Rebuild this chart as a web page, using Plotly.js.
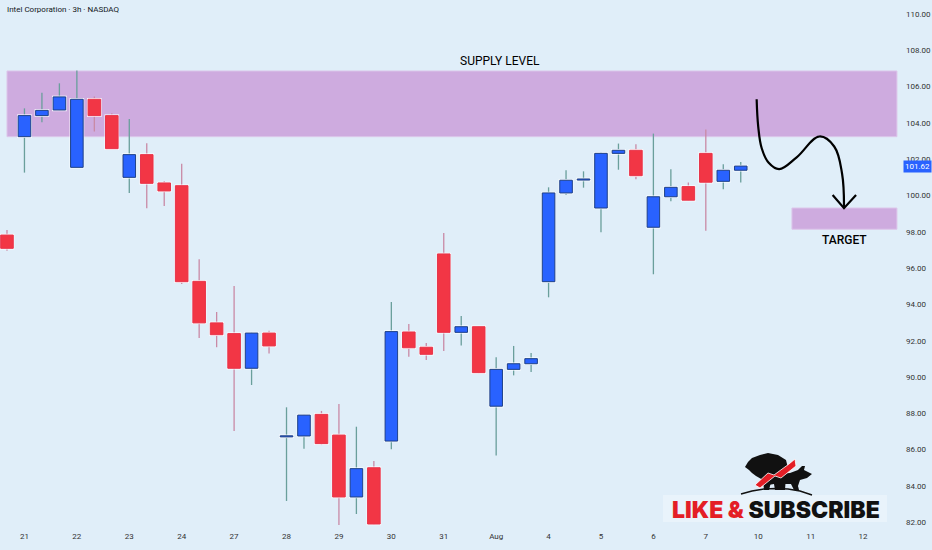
<!DOCTYPE html>
<html><head><meta charset="utf-8">
<script src="https://cdn.plot.ly/plotly-3.0.1.min.js"></script>
<style>html,body{margin:0;padding:0;background:#e0eef9;}#chart{width:932px;height:550px;}</style>
</head><body><div id="chart"></div><script>
// ---- data (3h candles, Intel Corporation, NASDAQ) ----
const dayLabels = ['21','22','23','24','27','28','29','30','31','Aug','4','5','6','7','10','11','12'];
const candlesPerDay = 3;
const openP  = [97.82,103.24,104.40,104.71,101.55,105.30,104.40,101.00,102.25,100.69,100.54,95.27,92.98,92.39,90.48,92.42,86.70,86.75,87.94,86.80,83.39,85.00,86.47,92.48,91.64,96.78,92.46,92.77,88.39,90.42,90.73,95.25,100.14,100.85,99.31,102.32,102.49,98.25,99.93,100.49,102.32,100.78,101.39];
const highP  = [98.10,104.80,105.66,106.18,106.88,105.45,104.53,104.21,102.88,100.80,101.75,96.48,93.58,95.01,92.48,92.55,88.33,87.94,88.13,88.51,87.26,85.37,94.13,92.92,91.87,97.93,93.36,92.81,91.09,91.71,91.32,100.45,101.39,101.33,102.40,102.86,102.82,103.41,101.44,100.71,103.64,101.72,101.85];
const lowP   = [96.96,101.26,104.03,104.66,101.55,103.52,102.58,100.14,99.29,99.42,95.12,92.15,91.64,87.02,89.56,91.29,83.17,86.05,86.25,81.85,82.45,81.85,86.02,91.12,90.94,91.43,91.73,90.20,85.67,90.09,90.28,94.39,100.03,100.43,97.97,101.42,100.89,95.66,99.68,99.70,98.06,100.34,100.71];
const closeP = [97.09,104.40,104.69,105.43,105.30,104.40,102.58,102.25,100.67,100.25,95.25,92.98,92.33,90.48,92.42,91.71,86.76,87.90,86.33,83.39,84.95,81.90,92.50,91.61,91.25,92.46,92.77,90.24,90.42,90.73,91.01,100.14,100.84,100.89,102.32,102.49,101.09,99.93,100.45,99.74,100.73,101.39,101.62];
const lastPrice = 101.62;
const supplyZone = [103.24, 106.86];
const targetZone = [98.14, 99.31];
// hand-drawn projection arrow (candle index, price)
const arrowX = [41.91, 42.0, 42.2, 42.6, 43.2, 44.2, 45.5, 46.35, 46.8, 46.91];
const arrowY = [105.30, 103.8, 102.6, 101.8, 101.45, 102.1, 103.25, 102.7, 101.2, 99.35];
const arrowHeadX = [46.26, 46.91, 47.6];
const arrowHeadY = [100.03, 99.30, 100.03];

// ---- build traces ----
const idx = openP.map((_, i) => i - 1);
const up = idx.map((_, i) => closeP[i] >= openP[i]);
function pick(arr, cond) { return arr.filter((_, i) => up[i] === cond); }
function wickTrace(cond, color) {
  return {type:'bar', x: pick(idx, cond), base: pick(lowP, cond),
    y: pick(highP.map((h,i)=>h-lowP[i]), cond), width: 0.075,
    marker:{color:color, line:{width:0}}, hoverinfo:'skip', showlegend:false};
}
function haloTrace() {
  return {type:'bar', x: idx, base: idx.map((_,i)=>Math.min(openP[i],closeP[i])-0.07),
    y: idx.map((_,i)=>Math.max(Math.abs(closeP[i]-openP[i]),0.06)+0.14), width:0.84,
    marker:{color:'rgba(255,255,255,0.85)', line:{width:0}}, hoverinfo:'skip', showlegend:false};
}
function bodyTrace(cond, fill, border) {
  return {type:'bar', x: pick(idx, cond),
    base: pick(idx.map((_,i)=>Math.min(openP[i],closeP[i])), cond),
    y: pick(idx.map((_,i)=>Math.max(Math.abs(closeP[i]-openP[i]),0.06)), cond),
    width: 0.72, marker:{color:fill, line:{color:border, width:1}}, hoverinfo:'skip', showlegend:false};
}
const traces = [
  wickTrace(true, '#6a9f9c'),
  wickTrace(false, '#c98aa6'),
  haloTrace(),
  bodyTrace(true, '#2962ff', '#1c3f86'),
  bodyTrace(false, '#f23645', '#e8334a'),
  {type:'scatter', mode:'lines', x: arrowX, y: arrowY, line:{color:'#000', width:2.2, shape:'spline', smoothing:1.1}, hoverinfo:'skip', showlegend:false},
  {type:'scatter', mode:'lines', x: arrowHeadX, y: arrowHeadY, line:{color:'#000', width:2.2}, hoverinfo:'skip', showlegend:false}
];

// ---- logo helper (pixel -> paper) ----
const PW = 902, PH = 530;
function pth(points, close) {
  let s = points.map((p, i) => (i ? 'L' : 'M') + (p[0]/PW).toFixed(5) + ',' + (1 - p[1]/PH).toFixed(5)).join(' ');
  return s + (close ? ' Z' : '');
}
const bear = [[745,467],[748,462],[752,458],[760,455],[768,453],[778,455],[786,460],[788,468],[786,476],[785,490],[780,490],[779,481],[771,482],[769,490],[764,490],[763,480],[756,476],[752,473],[749,470]];
const bull = [[766,479],[775,474],[790,473],[798,470],[802,466],[805,466],[804,470],[812,474],[807,478],[800,480],[798,486],[799,490],[794,490],[791,484],[782,484],[780,490],[775,490],[774,484],[768,485]];
const streak = [[755,485],[768,473],[774,475],[789,464],[795,459],[796,466],[781,478],[775,476],[760,488]];

const tickvals = dayLabels.map((_, i) => i * candlesPerDay);

const layout = {
  width: 932, height: 550,
  margin: {l: 0, r: 30, t: 0, b: 20},
  paper_bgcolor: '#e0eef9', plot_bgcolor: '#e0eef9',
  barmode: 'overlay', showlegend: false, hovermode: false,
  font: {family: 'Roboto, "Liberation Sans", sans-serif', color: '#131722'},
  xaxis: {range: [-1.40, 50.23], tickvals: tickvals, ticktext: dayLabels,
    showgrid: false, zeroline: false, showline: false, ticks: '',
    tickfont: {size: 8, color: '#333'}, fixedrange: true},
  yaxis: {range: [81.57, 110.77], side: 'right', dtick: 2, tick0: 0, tickformat: '.2f',
    showgrid: false, zeroline: false, showline: false, ticks: '', ticklabelstandoff: 3,
    tickfont: {size: 8, color: '#333'}, fixedrange: true},
  shapes: [
    {type:'rect', layer:'below', xref:'x', yref:'y', x0:-1.0, x1:49.94, y0:supplyZone[0], y1:supplyZone[1],
      fillcolor:'#ceabdf', line:{color:'#dcc6ea', width:1}},
    {type:'rect', layer:'below', xref:'x', yref:'y', x0:43.93, x1:49.94, y0:targetZone[0], y1:targetZone[1],
      fillcolor:'#ceabdf', line:{color:'#dcc6ea', width:1}},
    {type:'rect', layer:'below', xref:'paper', yref:'paper', x0:663/PW, x1:887/PW, y0:1-522/PH, y1:1-495/PH,
      fillcolor:'rgba(255,255,255,0.3)', line:{width:0}},
    {type:'path', xref:'paper', yref:'paper', path: pth(bear, true), fillcolor:'#111', line:{width:0}},
    {type:'path', xref:'paper', yref:'paper', path: pth(bull, true), fillcolor:'#111', line:{width:0}},
    {type:'path', xref:'paper', yref:'paper', path: pth(streak, true), fillcolor:'#e41e26', line:{color:'#fff', width:0.8}},
    {type:'path', xref:'paper', yref:'paper', path: pth([[741,494],[752,491],[764,489],[776,488.5],[788,489],[800,491],[812,495]], false), line:{color:'#111', width:1.5}}
  ],
  annotations: [
    {xref:'paper', yref:'paper', x: 5/PW, y: 1 - 10/PH, xanchor:'left', yanchor:'middle', showarrow:false,
      text:'Intel Corporation · 3h · NASDAQ', font:{size:8, color:'#131722'}},
    {xref:'x', yref:'y', x: 27.22, y: 107.41, showarrow:false, text:'SUPPLY LEVEL',
      font:{size:12, color:'#000', family:'Roboto, sans-serif'}},
    {xref:'x', yref:'y', x: 46.91, y: 97.55, showarrow:false, text:'TARGET',
      font:{size:12, color:'#000', family:'Roboto, sans-serif', weight:500}},
    {xref:'paper', yref:'y', x: 1, y: lastPrice, xanchor:'left', yanchor:'middle', showarrow:false,
      text: lastPrice.toFixed(2), bgcolor:'#2962ff', borderpad:1, xshift:1, font:{size:8, color:'#fff'}},
    {xref:'paper', yref:'paper', x: 776/PW, y: 1 - 510/PH, xanchor:'center', yanchor:'middle', showarrow:false,
      text:'<span style="color:#e41e26">LIKE &amp;</span> SUBSCRIBE',
      font:{size:23, color:'#111', family:'Inter, Lato, sans-serif', weight:900}}
  ]
};
Plotly.newPlot('chart', traces, layout, {displayModeBar:false, staticPlot:true});
</script></body></html>
